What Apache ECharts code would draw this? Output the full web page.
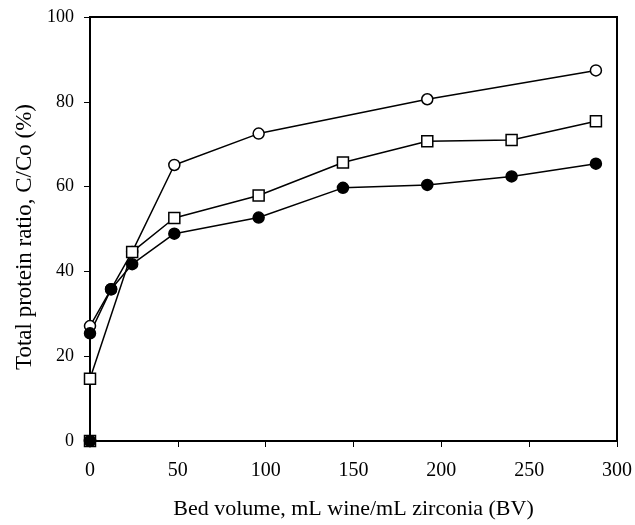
<!DOCTYPE html>
<html>
<head>
<meta charset="utf-8">
<script src="https://cdn.jsdelivr.net/npm/echarts@6/dist/echarts.min.js"></script>
<style>
	html, body { margin: 0; padding: 0; background: #fff; }
	#chart { width: 635px; height: 525px; }
</style>
</head>
<body>
<div id="chart"></div>
<script>
// 数据
var bvOpen = [0, 0, 12, 24, 48, 96, 192, 288]
var openCircle = [0, 27.1, 35.8, 44.6, 65.1, 72.5, 80.6, 87.4]
var bvSquare = [0, 0, 24, 48, 96, 144, 192, 240, 288]
var openSquare = [0, 14.7, 44.6, 52.6, 57.9, 65.7, 70.7, 71.0, 75.4]
var bvFilled = [0, 0, 12, 24, 48, 96, 144, 192, 240, 288]
var filledCircle = [0, 25.4, 35.8, 41.7, 48.9, 52.7, 59.7, 60.4, 62.4, 65.4]
var xTicks = [0, 50, 100, 150, 200, 250, 300]
var yTicks = [0, 20, 40, 60, 80, 100]

var font = 'Liberation Serif'

function pairs(xs, ys) {
	var out = []
	for (var i = 0; i < xs.length; i++) {
		out.push([xs[i], ys[i]])
	}
	return out
}

function lineSeries(name, data, symbol, fill) {
	return {
		name: name,
		type: 'line',
		data: data,
		symbol: symbol,
		symbolSize: 11,
		showAllSymbol: true,
		lineStyle: { color: '#000', width: 1.5 },
		itemStyle: { color: fill, borderColor: '#000', borderWidth: 1.5 },
		emphasis: { disabled: true },
		animation: false
	}
}

var myChart = echarts.init(document.getElementById('chart'))
myChart.setOption({
	backgroundColor: '#fff',
	grid: {
		left: 90, right: 18, top: 17, bottom: 81,
		show: true, borderColor: '#000', borderWidth: 2, backgroundColor: 'transparent'
	},
	xAxis: {
		type: 'value', min: 0, max: 300, interval: 50,
		name: 'Bed volume, mL wine/mL zirconia (BV)',
		nameLocation: 'middle', nameGap: 57,
		nameTextStyle: { fontFamily: font, fontSize: 22, color: '#000' },
		axisLine: { lineStyle: { color: '#000', width: 2 } },
		axisTick: { inside: false, length: 6, lineStyle: { color: '#000', width: 1 } },
		axisLabel: {
			fontFamily: font, fontSize: 20, color: '#000', margin: 20,
			formatter: function (v) { return xTicks.indexOf(v) >= 0 ? v : '' }
		},
		splitLine: { show: false }
	},
	yAxis: {
		type: 'value', min: 0, max: 100, interval: 20,
		name: 'Total protein ratio, C/Co (%)',
		nameLocation: 'middle', nameGap: 54,
		nameTextStyle: { fontFamily: font, fontSize: 23, color: '#000', padding: [0, 16, 0, 0] },
		axisLine: { lineStyle: { color: '#000', width: 2 } },
		axisTick: { inside: false, length: 6, lineStyle: { color: '#000', width: 1 } },
		axisLabel: {
			fontFamily: font, fontSize: 18, color: '#000', margin: 16,
			formatter: function (v) { return yTicks.indexOf(v) >= 0 ? v : '' }
		},
		splitLine: { show: false }
	},
	series: [
		lineSeries('open circle', pairs(bvOpen, openCircle), 'circle', '#fff'),
		lineSeries('open square', pairs(bvSquare, openSquare), 'rect', '#fff'),
		lineSeries('filled circle', pairs(bvFilled, filledCircle), 'circle', '#000'),
		{
			name: 'start',
			type: 'scatter',
			data: [[bvFilled[0], filledCircle[0]]],
			symbol: 'rect',
			symbolSize: 11,
			itemStyle: { color: '#000' },
			emphasis: { disabled: true },
			animation: false
		}
	]
})
</script>
</body>
</html>
